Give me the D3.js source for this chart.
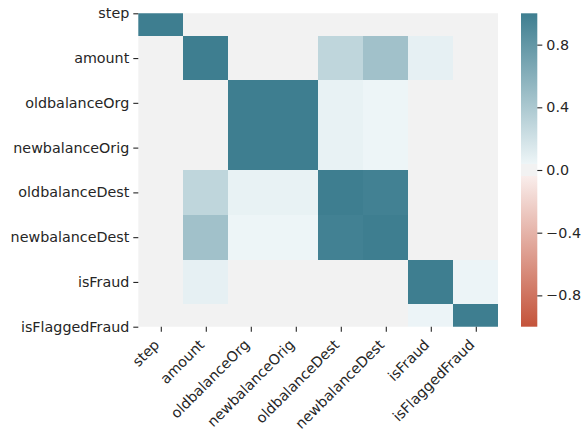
<!DOCTYPE html>
<html>
<head>
<meta charset="utf-8">
<script src="https://cdn.jsdelivr.net/npm/d3@7"></script>
<style>
  html, body { margin: 0; padding: 0; background: #ffffff; }
  svg { display: block; }
  text { font-family: "DejaVu Sans", sans-serif; fill: #262626; }
</style>
</head>
<body>
<svg id="chart" width="582" height="432"></svg>
<script>
// Feature names (rows and columns of the correlation matrix)
const features = ["step", "amount", "oldbalanceOrg", "newbalanceOrig",
                  "oldbalanceDest", "newbalanceDest", "isFraud", "isFlaggedFraud"];

// Pearson correlations, one row per feature
const corrStep           = [1.0000, 0.0224, -0.0101, -0.0103, 0.0277, 0.0259, 0.0316, 0.0033];
const corrAmount         = [0.0224, 1.0000, -0.0028, -0.0079, 0.2941, 0.4593, 0.0767, 0.0123];
const corrOldbalanceOrg  = [-0.0101, -0.0028, 1.0000, 0.9988, 0.0662, 0.0420, 0.0102, 0.0038];
const corrNewbalanceOrig = [-0.0103, -0.0079, 0.9988, 1.0000, 0.0678, 0.0418, -0.0081, 0.0078];
const corrOldbalanceDest = [0.0277, 0.2941, 0.0662, 0.0678, 1.0000, 0.9766, -0.0059, -0.0005];
const corrNewbalanceDest = [0.0259, 0.4593, 0.0420, 0.0418, 0.9766, 1.0000, 0.0005, -0.0005];
const corrIsFraud        = [0.0316, 0.0767, 0.0102, -0.0081, -0.0059, 0.0005, 1.0000, 0.0441];
const corrIsFlagged      = [0.0033, 0.0123, 0.0038, 0.0078, -0.0005, -0.0005, 0.0441, 1.0000];

// Colour bar tick values
const colorbarTicks = [0.8, 0.4, 0.0, -0.4, -0.8];

const matrix = [corrStep, corrAmount, corrOldbalanceOrg, corrNewbalanceOrig,
                corrOldbalanceDest, corrNewbalanceDest, corrIsFraud, corrIsFlagged];

const cells = [];
matrix.forEach((row, i) => row.forEach((v, j) => cells.push({ row: i, col: j, value: v })));

const svg = d3.select("#chart");

// Plot area
const plotLeft = 138.3, plotRight = 498.3, plotTop = 13.3, plotBottom = 326.7;
const n = features.length;

// Columns: full cells across the width
const x = d3.scaleLinear().domain([0, n]).range([plotLeft, plotRight]);
// Rows: the first and last rows are half-visible
const y = d3.scaleLinear().domain([0.5, n - 0.5]).range([plotTop, plotBottom]);

// Diverging palette: red (negative) -> pale tint -> flat grey band around 0
// -> pale tint -> teal blue (positive)
const bandHalf = 0.04;
const midGrey = "#f2f2f2";
const negScale = d3.scaleLinear()
  .domain([-1, -bandHalf])
  .range(["#c4533a", "#f9edeb"])
  .interpolate(d3.interpolateRgb)
  .clamp(true);
const posScale = d3.scaleLinear()
  .domain([bandHalf, 1])
  .range(["#edf5f7", "#3e7e90"])
  .interpolate(d3.interpolateRgb)
  .clamp(true);
const color = v => v >= bandHalf ? posScale(v) : (v <= -bandHalf ? negScale(v) : midGrey);

const defs = svg.append("defs");
defs.append("clipPath").attr("id", "plotClip")
  .append("rect")
  .attr("x", plotLeft).attr("y", plotTop)
  .attr("width", plotRight - plotLeft).attr("height", plotBottom - plotTop);

svg.append("g")
  .attr("clip-path", "url(#plotClip)")
  .attr("shape-rendering", "crispEdges")
  .selectAll("rect")
  .data(cells)
  .join("rect")
  .attr("x", d => x(d.col))
  .attr("y", d => y(d.row))
  .attr("width", d => x(d.col + 1) - x(d.col))
  .attr("height", d => y(d.row + 1) - y(d.row))
  .attr("fill", d => color(d.value));

// Y axis
const yAxis = d3.axisLeft(y)
  .tickValues(d3.range(n).map(i => i + 0.5))
  .tickFormat((d, i) => features[i])
  .tickSize(5)
  .tickPadding(4);

const gy = svg.append("g").attr("transform", `translate(${plotLeft},0)`).call(yAxis);
gy.select(".domain").remove();
gy.selectAll(".tick line").attr("stroke", "#262626").attr("stroke-width", 1.1);
gy.selectAll(".tick text")
  .attr("font-size", 14.3)
  .attr("font-family", "DejaVu Sans, sans-serif")
  .attr("fill", "#262626");

// X axis with rotated labels
const xAxis = d3.axisBottom(x)
  .tickValues(d3.range(n).map(i => i + 0.5))
  .tickFormat((d, i) => features[i])
  .tickSize(5);

const gx = svg.append("g").attr("transform", `translate(0,${plotBottom})`).call(xAxis);
gx.select(".domain").remove();
gx.selectAll(".tick line").attr("stroke", "#262626").attr("stroke-width", 1.1);
gx.selectAll(".tick text")
  .attr("font-size", 14.3)
  .attr("font-family", "DejaVu Sans, sans-serif")
  .attr("fill", "#262626")
  .attr("text-anchor", "end")
  .attr("y", 0)
  .attr("dy", 0)
  .attr("transform", "translate(-1,19) rotate(-45)");

// Colour bar
const cbLeft = 521, cbWidth = 16.3;
const cbScale = d3.scaleLinear().domain([-1, 1]).range([plotBottom, plotTop]);

// Gradient stops, with hard edges at the grey band
const cbStops = [
  { offset: -1, value: -1 },
  { offset: -bandHalf, value: -bandHalf },
  { offset: -bandHalf, value: 0 },
  { offset: bandHalf, value: 0 },
  { offset: bandHalf, value: bandHalf },
  { offset: 1, value: 1 }
];
const grad = defs.append("linearGradient")
  .attr("id", "cbGrad")
  .attr("x1", 0).attr("y1", 1).attr("x2", 0).attr("y2", 0);
grad.selectAll("stop")
  .data(cbStops)
  .join("stop")
  .attr("offset", d => (d.offset + 1) / 2)
  .attr("stop-color", d => color(d.value));

svg.append("rect")
  .attr("x", cbLeft).attr("y", cbScale(1))
  .attr("width", cbWidth).attr("height", cbScale(-1) - cbScale(1))
  .attr("fill", "url(#cbGrad)");

const cbAxis = d3.axisRight(cbScale)
  .tickValues(colorbarTicks)
  .tickFormat(d => d3.format(".1f")(d).replace("-", "\u2212"))
  .tickSize(5)
  .tickPadding(4);

const gc = svg.append("g").attr("transform", `translate(${cbLeft + cbWidth},0)`).call(cbAxis);
gc.select(".domain").remove();
gc.selectAll(".tick line").attr("stroke", "#262626").attr("stroke-width", 1.1);
gc.selectAll(".tick text")
  .attr("font-size", 14.3)
  .attr("font-family", "DejaVu Sans, sans-serif")
  .attr("fill", "#262626");
</script>
</body>
</html>
